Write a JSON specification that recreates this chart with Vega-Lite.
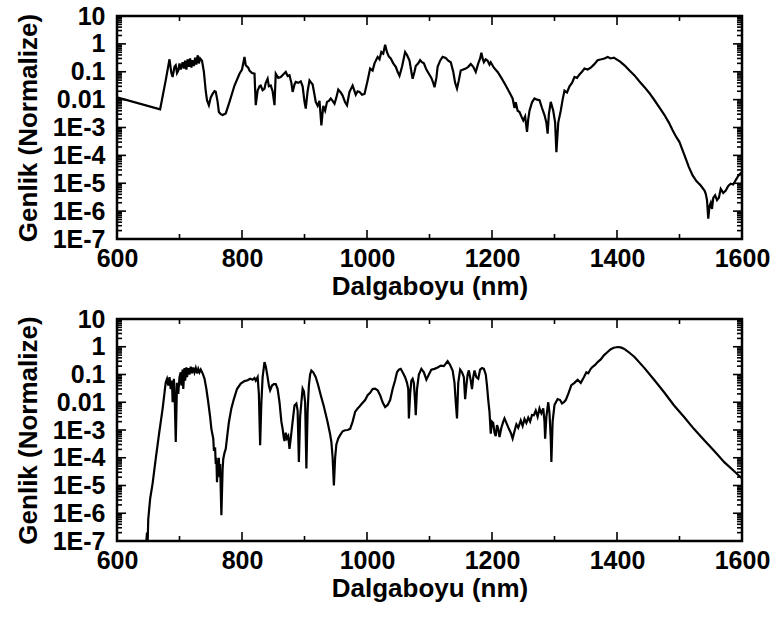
{
  "$schema": "https://vega.github.io/schema/vega-lite/v6.json",
  "padding": {"left": 13, "top": 2, "right": 2, "bottom": 2},
  "background": "white",
  "config": {
    "view": {"stroke": "black", "strokeWidth": 2.5},
    "axis": {
      "domain": false, "grid": false, "ticks": false,
      "labelFont": "Liberation Sans", "labelFontWeight": "bold", "labelFontSize": 25, "labelColor": "black",
      "titleFont": "Liberation Sans", "titleFontWeight": "bold", "titleFontSize": 26, "titleColor": "black",
      "labelOverlap": false, "labelFlush": false
    },
    "tick": {"color": "black", "opacity": 1, "thickness": 1.6}
  },
  "datasets": {
    "xmaj": [{"x":800},{"x":1000},{"x":1200},{"x":1400}],
    "xmin": [{"x":700},{"x":900},{"x":1100},{"x":1300},{"x":1500}],
    "ymaj": [{"y":1e-6},{"y":1e-5},{"y":1e-4},{"y":0.001},{"y":0.01},{"y":0.1},{"y":1}],
    "ymin": [{"y":2e-7},{"y":3e-7},{"y":4e-7},{"y":5e-7},{"y":6e-7},{"y":7e-7},{"y":8e-7},{"y":9e-7},{"y":2e-6},{"y":3e-6},{"y":4e-6},{"y":5e-6},{"y":6e-6},{"y":7e-6},{"y":8e-6},{"y":9e-6},{"y":2e-5},{"y":3e-5},{"y":4e-5},{"y":5e-5},{"y":6e-5},{"y":7e-5},{"y":8e-5},{"y":9e-5},{"y":2e-4},{"y":3e-4},{"y":4e-4},{"y":5e-4},{"y":6e-4},{"y":7e-4},{"y":8e-4},{"y":9e-4},{"y":0.002},{"y":0.003},{"y":0.004},{"y":0.005},{"y":0.006},{"y":0.007},{"y":0.008},{"y":0.009},{"y":0.02},{"y":0.03},{"y":0.04},{"y":0.05},{"y":0.06},{"y":0.07},{"y":0.08},{"y":0.09},{"y":0.2},{"y":0.3},{"y":0.4},{"y":0.5},{"y":0.6},{"y":0.7},{"y":0.8},{"y":0.9},{"y":2},{"y":3},{"y":4},{"y":5},{"y":6},{"y":7},{"y":8},{"y":9}],
    "a": [
      {"x":600,"y":0.012},{"x":669,"y":0.0045},{"x":678,"y":0.05},{"x":684,"y":0.28},{"x":687,"y":0.09},{"x":689,"y":0.065},{"x":692,"y":0.15},{"x":694,"y":0.17},{"x":696,"y":0.09},{"x":698,"y":0.11},{"x":700,"y":0.2},{"x":702,"y":0.12},{"x":705,"y":0.22},{"x":707,"y":0.13},{"x":709,"y":0.25},{"x":711,"y":0.12},{"x":713,"y":0.28},{"x":715,"y":0.15},{"x":717,"y":0.3},{"x":719,"y":0.14},{"x":721,"y":0.26},{"x":723,"y":0.16},{"x":725,"y":0.32},{"x":727,"y":0.18},{"x":729,"y":0.39},{"x":731,"y":0.2},{"x":733,"y":0.3},{"x":736,"y":0.25},{"x":739,"y":0.1},{"x":742,"y":0.02},{"x":744,"y":0.0095},{"x":747,"y":0.0063},{"x":750,"y":0.012},{"x":753,"y":0.016},{"x":756,"y":0.02},{"x":758,"y":0.019},{"x":761,"y":0.0083},{"x":763,"y":0.0036},{"x":766,"y":0.003},{"x":769,"y":0.0028},{"x":774,"y":0.0032},{"x":780,"y":0.0083},{"x":788,"y":0.032},{"x":796,"y":0.085},{"x":800,"y":0.12},{"x":804,"y":0.34},{"x":806,"y":0.17},{"x":810,"y":0.14},{"x":812,"y":0.11},{"x":816,"y":0.09},{"x":820,"y":0.085},{"x":822,"y":0.0063},{"x":825,"y":0.021},{"x":828,"y":0.03},{"x":830,"y":0.032},{"x":833,"y":0.022},{"x":836,"y":0.025},{"x":838,"y":0.04},{"x":841,"y":0.056},{"x":843,"y":0.03},{"x":846,"y":0.032},{"x":849,"y":0.02},{"x":852,"y":0.0063},{"x":854,"y":0.085},{"x":858,"y":0.06},{"x":862,"y":0.065},{"x":866,"y":0.08},{"x":870,"y":0.098},{"x":873,"y":0.07},{"x":876,"y":0.075},{"x":879,"y":0.04},{"x":881,"y":0.019},{"x":884,"y":0.035},{"x":886,"y":0.043},{"x":890,"y":0.04},{"x":894,"y":0.045},{"x":897,"y":0.03},{"x":900,"y":0.0083},{"x":902,"y":0.0048},{"x":905,"y":0.02},{"x":908,"y":0.049},{"x":911,"y":0.04},{"x":913,"y":0.035},{"x":916,"y":0.015},{"x":918,"y":0.0083},{"x":921,"y":0.006},{"x":924,"y":0.009},{"x":927,"y":0.0012},{"x":930,"y":0.006},{"x":933,"y":0.004},{"x":936,"y":0.0083},{"x":939,"y":0.009},{"x":942,"y":0.011},{"x":945,"y":0.009},{"x":948,"y":0.0071},{"x":951,"y":0.012},{"x":954,"y":0.023},{"x":958,"y":0.018},{"x":961,"y":0.014},{"x":965,"y":0.008},{"x":968,"y":0.0063},{"x":972,"y":0.019},{"x":977,"y":0.032},{"x":982,"y":0.015},{"x":985,"y":0.02},{"x":988,"y":0.019},{"x":992,"y":0.015},{"x":996,"y":0.016},{"x":1001,"y":0.049},{"x":1005,"y":0.13},{"x":1009,"y":0.11},{"x":1012,"y":0.2},{"x":1017,"y":0.34},{"x":1020,"y":0.28},{"x":1023,"y":0.51},{"x":1026,"y":0.45},{"x":1029,"y":0.93},{"x":1032,"y":0.5},{"x":1035,"y":0.35},{"x":1038,"y":0.3},{"x":1042,"y":0.2},{"x":1046,"y":0.15},{"x":1049,"y":0.1},{"x":1052,"y":0.071},{"x":1056,"y":0.15},{"x":1061,"y":0.51},{"x":1064,"y":0.4},{"x":1068,"y":0.25},{"x":1071,"y":0.1},{"x":1073,"y":0.056},{"x":1076,"y":0.1},{"x":1078,"y":0.16},{"x":1082,"y":0.2},{"x":1085,"y":0.26},{"x":1088,"y":0.22},{"x":1091,"y":0.2},{"x":1095,"y":0.12},{"x":1099,"y":0.085},{"x":1103,"y":0.06},{"x":1106,"y":0.04},{"x":1108,"y":0.028},{"x":1111,"y":0.06},{"x":1113,"y":0.15},{"x":1117,"y":0.25},{"x":1121,"y":0.34},{"x":1126,"y":0.31},{"x":1130,"y":0.25},{"x":1134,"y":0.22},{"x":1138,"y":0.1},{"x":1141,"y":0.04},{"x":1144,"y":0.025},{"x":1147,"y":0.05},{"x":1150,"y":0.11},{"x":1154,"y":0.12},{"x":1158,"y":0.13},{"x":1162,"y":0.15},{"x":1166,"y":0.19},{"x":1170,"y":0.15},{"x":1174,"y":0.098},{"x":1176,"y":0.14},{"x":1178,"y":0.2},{"x":1181,"y":0.3},{"x":1183,"y":0.48},{"x":1185,"y":0.3},{"x":1187,"y":0.22},{"x":1190,"y":0.28},{"x":1193,"y":0.25},{"x":1196,"y":0.18},{"x":1198,"y":0.22},{"x":1203,"y":0.14},{"x":1209,"y":0.098},{"x":1215,"y":0.06},{"x":1222,"y":0.032},{"x":1228,"y":0.018},{"x":1233,"y":0.011},{"x":1236,"y":0.005},{"x":1238,"y":0.008},{"x":1241,"y":0.004},{"x":1244,"y":0.0036},{"x":1247,"y":0.0025},{"x":1250,"y":0.0018},{"x":1253,"y":0.0025},{"x":1256,"y":0.00069},{"x":1258,"y":0.002},{"x":1260,"y":0.004},{"x":1264,"y":0.008},{"x":1268,"y":0.011},{"x":1272,"y":0.01},{"x":1276,"y":0.0095},{"x":1280,"y":0.005},{"x":1284,"y":0.0028},{"x":1287,"y":0.0015},{"x":1289,"y":0.0006},{"x":1291,"y":0.003},{"x":1294,"y":0.0083},{"x":1298,"y":0.004},{"x":1301,"y":0.0015},{"x":1303,"y":0.00013},{"x":1306,"y":0.0015},{"x":1310,"y":0.004},{"x":1313,"y":0.01},{"x":1316,"y":0.021},{"x":1320,"y":0.018},{"x":1324,"y":0.03},{"x":1328,"y":0.04},{"x":1332,"y":0.065},{"x":1336,"y":0.06},{"x":1340,"y":0.08},{"x":1344,"y":0.1},{"x":1348,"y":0.13},{"x":1353,"y":0.12},{"x":1358,"y":0.14},{"x":1363,"y":0.18},{"x":1369,"y":0.26},{"x":1375,"y":0.28},{"x":1380,"y":0.3},{"x":1385,"y":0.34},{"x":1390,"y":0.3},{"x":1395,"y":0.32},{"x":1398,"y":0.29},{"x":1405,"y":0.23},{"x":1412,"y":0.17},{"x":1420,"y":0.11},{"x":1428,"y":0.074},{"x":1436,"y":0.045},{"x":1444,"y":0.028},{"x":1452,"y":0.017},{"x":1460,"y":0.0095},{"x":1468,"y":0.0052},{"x":1476,"y":0.0028},{"x":1483,"y":0.0015},{"x":1489,"y":0.0008},{"x":1495,"y":0.00045},{"x":1500,"y":0.0003},{"x":1505,"y":0.00015},{"x":1510,"y":0.000076},{"x":1515,"y":0.000038},{"x":1521,"y":0.000019},{"x":1527,"y":0.000012},{"x":1534,"y":0.0000083},{"x":1540,"y":0.0000055},{"x":1542,"y":0.0000042},{"x":1544,"y":0.0000025},{"x":1546,"y":0.00000054},{"x":1548,"y":0.0000015},{"x":1550,"y":0.000002},{"x":1552,"y":0.0000012},{"x":1554,"y":0.000003},{"x":1557,"y":0.0000037},{"x":1560,"y":0.0000025},{"x":1563,"y":0.000003},{"x":1566,"y":0.0000063},{"x":1570,"y":0.0000045},{"x":1574,"y":0.0000055},{"x":1578,"y":0.000008},{"x":1582,"y":0.0000096},{"x":1586,"y":0.000009},{"x":1590,"y":0.000013},{"x":1595,"y":0.00002},{"x":1600,"y":0.000025}
    ],
    "b": [
      {"x":645,"y":0.00000001},{"x":646,"y":0.00000005},{"x":648,"y":0.0000002},{"x":649,"y":0.00000008},{"x":650,"y":0.0000006},{"x":653,"y":0.0000033},{"x":657,"y":0.000012},{"x":662,"y":0.000093},{"x":667,"y":0.00065},{"x":673,"y":0.0059},{"x":678,"y":0.053},{"x":680,"y":0.07},{"x":682,"y":0.04},{"x":684,"y":0.08},{"x":686,"y":0.03},{"x":688,"y":0.06},{"x":689,"y":0.01},{"x":691,"y":0.07},{"x":692,"y":0.03},{"x":694,"y":0.00037},{"x":696,"y":0.05},{"x":698,"y":0.02},{"x":700,"y":0.08},{"x":702,"y":0.12},{"x":703,"y":0.04},{"x":705,"y":0.15},{"x":706,"y":0.03},{"x":708,"y":0.17},{"x":709,"y":0.06},{"x":711,"y":0.18},{"x":712,"y":0.08},{"x":714,"y":0.17},{"x":716,"y":0.1},{"x":718,"y":0.19},{"x":720,"y":0.11},{"x":722,"y":0.18},{"x":724,"y":0.12},{"x":726,"y":0.17},{"x":728,"y":0.11},{"x":730,"y":0.16},{"x":732,"y":0.12},{"x":734,"y":0.15},{"x":737,"y":0.11},{"x":740,"y":0.071},{"x":743,"y":0.03},{"x":746,"y":0.01},{"x":749,"y":0.003},{"x":751,"y":0.0011},{"x":754,"y":0.00049},{"x":755,"y":0.0002},{"x":757,"y":0.00021},{"x":758,"y":0.00006},{"x":759,"y":0.0001},{"x":760,"y":0.000013},{"x":761,"y":0.00008},{"x":762,"y":0.00003},{"x":763,"y":0.0001},{"x":764,"y":0.00002},{"x":765,"y":0.00006},{"x":767,"y":0.00000085},{"x":769,"y":0.00004},{"x":770,"y":0.00009},{"x":772,"y":0.00015},{"x":774,"y":0.00021},{"x":777,"y":0.0008},{"x":779,"y":0.0019},{"x":783,"y":0.006},{"x":787,"y":0.013},{"x":792,"y":0.03},{"x":798,"y":0.047},{"x":804,"y":0.058},{"x":809,"y":0.062},{"x":813,"y":0.07},{"x":817,"y":0.065},{"x":820,"y":0.075},{"x":822,"y":0.06},{"x":825,"y":0.08},{"x":827,"y":0.02},{"x":829,"y":0.00028},{"x":831,"y":0.01},{"x":833,"y":0.08},{"x":836,"y":0.28},{"x":838,"y":0.2},{"x":841,"y":0.08},{"x":843,"y":0.04},{"x":845,"y":0.027},{"x":848,"y":0.04},{"x":851,"y":0.045},{"x":854,"y":0.045},{"x":857,"y":0.03},{"x":860,"y":0.01},{"x":863,"y":0.002},{"x":865,"y":0.0011},{"x":867,"y":0.0005},{"x":868,"y":0.0004},{"x":870,"y":0.0008},{"x":872,"y":0.0005},{"x":874,"y":0.0006},{"x":876,"y":0.00021},{"x":878,"y":0.0005},{"x":881,"y":0.002},{"x":884,"y":0.0077},{"x":887,"y":0.009},{"x":889,"y":0.005},{"x":891,"y":0.00007},{"x":893,"y":0.003},{"x":895,"y":0.01},{"x":897,"y":0.031},{"x":899,"y":0.025},{"x":901,"y":0.01},{"x":903,"y":0.000041},{"x":905,"y":0.005},{"x":907,"y":0.04},{"x":909,"y":0.1},{"x":911,"y":0.14},{"x":914,"y":0.12},{"x":918,"y":0.08},{"x":922,"y":0.04},{"x":926,"y":0.018},{"x":931,"y":0.007},{"x":937,"y":0.0019},{"x":941,"y":0.0007},{"x":943,"y":0.00037},{"x":945,"y":0.0001},{"x":947,"y":0.00001},{"x":949,"y":0.0001},{"x":951,"y":0.0003},{"x":954,"y":0.0005},{"x":957,"y":0.00065},{"x":961,"y":0.0009},{"x":965,"y":0.00098},{"x":969,"y":0.001},{"x":973,"y":0.0011},{"x":977,"y":0.002},{"x":981,"y":0.0045},{"x":985,"y":0.006},{"x":988,"y":0.007},{"x":992,"y":0.009},{"x":997,"y":0.012},{"x":1001,"y":0.018},{"x":1005,"y":0.022},{"x":1009,"y":0.03},{"x":1013,"y":0.031},{"x":1017,"y":0.027},{"x":1021,"y":0.018},{"x":1025,"y":0.01},{"x":1029,"y":0.0067},{"x":1033,"y":0.008},{"x":1037,"y":0.012},{"x":1041,"y":0.03},{"x":1045,"y":0.062},{"x":1048,"y":0.12},{"x":1051,"y":0.15},{"x":1054,"y":0.16},{"x":1057,"y":0.12},{"x":1061,"y":0.08},{"x":1064,"y":0.05},{"x":1066,"y":0.03},{"x":1067,"y":0.0026},{"x":1069,"y":0.02},{"x":1071,"y":0.06},{"x":1073,"y":0.07},{"x":1075,"y":0.05},{"x":1077,"y":0.01},{"x":1078,"y":0.0034},{"x":1080,"y":0.03},{"x":1083,"y":0.1},{"x":1087,"y":0.16},{"x":1091,"y":0.12},{"x":1095,"y":0.065},{"x":1099,"y":0.1},{"x":1103,"y":0.15},{"x":1108,"y":0.16},{"x":1113,"y":0.18},{"x":1118,"y":0.21},{"x":1123,"y":0.2},{"x":1129,"y":0.3},{"x":1133,"y":0.22},{"x":1137,"y":0.14},{"x":1140,"y":0.05},{"x":1142,"y":0.01},{"x":1144,"y":0.0026},{"x":1146,"y":0.05},{"x":1149,"y":0.15},{"x":1152,"y":0.12},{"x":1155,"y":0.08},{"x":1157,"y":0.013},{"x":1159,"y":0.04},{"x":1161,"y":0.1},{"x":1163,"y":0.14},{"x":1166,"y":0.06},{"x":1168,"y":0.03},{"x":1170,"y":0.08},{"x":1172,"y":0.14},{"x":1175,"y":0.08},{"x":1178,"y":0.07},{"x":1181,"y":0.15},{"x":1184,"y":0.17},{"x":1187,"y":0.16},{"x":1190,"y":0.1},{"x":1192,"y":0.04},{"x":1194,"y":0.012},{"x":1196,"y":0.0045},{"x":1198,"y":0.00074},{"x":1200,"y":0.002},{"x":1202,"y":0.0018},{"x":1204,"y":0.0008},{"x":1206,"y":0.0006},{"x":1208,"y":0.0015},{"x":1210,"y":0.0011},{"x":1212,"y":0.00056},{"x":1215,"y":0.0012},{"x":1218,"y":0.002},{"x":1220,"y":0.0026},{"x":1223,"y":0.0018},{"x":1227,"y":0.0011},{"x":1230,"y":0.0008},{"x":1233,"y":0.00049},{"x":1236,"y":0.0009},{"x":1239,"y":0.0016},{"x":1242,"y":0.0012},{"x":1246,"y":0.0022},{"x":1249,"y":0.0014},{"x":1252,"y":0.0025},{"x":1255,"y":0.0018},{"x":1258,"y":0.0028},{"x":1261,"y":0.002},{"x":1264,"y":0.0035},{"x":1267,"y":0.0034},{"x":1270,"y":0.005},{"x":1273,"y":0.003},{"x":1276,"y":0.006},{"x":1279,"y":0.004},{"x":1282,"y":0.006},{"x":1284,"y":0.002},{"x":1285,"y":0.00049},{"x":1287,"y":0.003},{"x":1290,"y":0.01},{"x":1292,"y":0.004},{"x":1294,"y":0.0005},{"x":1295,"y":0.00007},{"x":1297,"y":0.002},{"x":1300,"y":0.008},{"x":1305,"y":0.013},{"x":1309,"y":0.012},{"x":1312,"y":0.009},{"x":1315,"y":0.01},{"x":1318,"y":0.012},{"x":1322,"y":0.02},{"x":1327,"y":0.041},{"x":1332,"y":0.05},{"x":1337,"y":0.065},{"x":1342,"y":0.05},{"x":1347,"y":0.08},{"x":1351,"y":0.12},{"x":1354,"y":0.11},{"x":1358,"y":0.16},{"x":1361,"y":0.19},{"x":1365,"y":0.22},{"x":1369,"y":0.28},{"x":1374,"y":0.35},{"x":1379,"y":0.49},{"x":1384,"y":0.62},{"x":1390,"y":0.81},{"x":1395,"y":0.92},{"x":1401,"y":0.98},{"x":1406,"y":0.95},{"x":1411,"y":0.85},{"x":1418,"y":0.66},{"x":1428,"y":0.43},{"x":1444,"y":0.17},{"x":1460,"y":0.062},{"x":1476,"y":0.022},{"x":1491,"y":0.0078},{"x":1507,"y":0.003},{"x":1523,"y":0.0011},{"x":1540,"y":0.00042},{"x":1556,"y":0.00017},{"x":1572,"y":0.000068},{"x":1588,"y":0.000032},{"x":1600,"y":0.000018}
    ]
  },
  "vconcat": [
    {
      "width": 625, "height": 223,
      "encoding": {
        "x": {"type": "quantitative", "scale": {"domain": [600, 1600], "nice": false, "zero": false},
          "axis": {"orient": "bottom", "values": [600,800,1000,1200,1400,1600], "format": "d", "labelPadding": 7, "title": "Dalgaboyu (nm)", "titlePadding": 2}},
        "y": {"type": "quantitative", "scale": {"type": "log", "domain": [1e-7, 10], "nice": false},
          "axis": {"orient": "left", "values": [1e-7,1e-6,1e-5,1e-4,0.001,0.01,0.1,1,10],
            "labelExpr": "datum.value >= 0.01 ? toString(datum.value) : '1E' + round(log(datum.value)/LN10)",
            "labelPadding": 12, "title": "Genlik (Normalize)", "titlePadding": 11}}
      },
      "layer": [
        {"data": {"name": "a"}, "mark": {"type": "line", "color": "black", "strokeWidth": 2.2, "clip": true},
         "encoding": {"x": {"field": "x"}, "y": {"field": "y"}}},
        {"data": {"name": "xmaj"}, "mark": {"type": "tick", "orient": "vertical", "size": 18, "clip": true},
         "encoding": {"x": {"field": "x"}, "y": {"datum": 1e-7}}},
        {"data": {"name": "xmaj"}, "mark": {"type": "tick", "orient": "vertical", "size": 18, "clip": true},
         "encoding": {"x": {"field": "x"}, "y": {"datum": 10}}},
        {"data": {"name": "xmin"}, "mark": {"type": "tick", "orient": "vertical", "size": 10, "clip": true},
         "encoding": {"x": {"field": "x"}, "y": {"datum": 1e-7}}},
        {"data": {"name": "xmin"}, "mark": {"type": "tick", "orient": "vertical", "size": 10, "clip": true},
         "encoding": {"x": {"field": "x"}, "y": {"datum": 10}}},
        {"data": {"name": "ymaj"}, "mark": {"type": "tick", "orient": "horizontal", "size": 18, "clip": true},
         "encoding": {"y": {"field": "y"}, "x": {"datum": 600}}},
        {"data": {"name": "ymaj"}, "mark": {"type": "tick", "orient": "horizontal", "size": 18, "clip": true},
         "encoding": {"y": {"field": "y"}, "x": {"datum": 1600}}},
        {"data": {"name": "ymin"}, "mark": {"type": "tick", "orient": "horizontal", "size": 10, "clip": true},
         "encoding": {"y": {"field": "y"}, "x": {"datum": 600}}},
        {"data": {"name": "ymin"}, "mark": {"type": "tick", "orient": "horizontal", "size": 10, "clip": true},
         "encoding": {"y": {"field": "y"}, "x": {"datum": 1600}}}
      ]
    },
    {
      "width": 625, "height": 222,
      "encoding": {
        "x": {"type": "quantitative", "scale": {"domain": [600, 1600], "nice": false, "zero": false},
          "axis": {"orient": "bottom", "values": [600,800,1000,1200,1400,1600], "format": "d", "labelPadding": 7, "title": "Dalgaboyu (nm)", "titlePadding": 2}},
        "y": {"type": "quantitative", "scale": {"type": "log", "domain": [1e-7, 10], "nice": false},
          "axis": {"orient": "left", "values": [1e-7,1e-6,1e-5,1e-4,0.001,0.01,0.1,1,10],
            "labelExpr": "datum.value >= 0.01 ? toString(datum.value) : '1E' + round(log(datum.value)/LN10)",
            "labelPadding": 12, "title": "Genlik (Normalize)", "titlePadding": 11}}
      },
      "layer": [
        {"data": {"name": "b"}, "mark": {"type": "line", "color": "black", "strokeWidth": 2.2, "clip": true},
         "encoding": {"x": {"field": "x"}, "y": {"field": "y"}}},
        {"data": {"name": "xmaj"}, "mark": {"type": "tick", "orient": "vertical", "size": 18, "clip": true},
         "encoding": {"x": {"field": "x"}, "y": {"datum": 1e-7}}},
        {"data": {"name": "xmaj"}, "mark": {"type": "tick", "orient": "vertical", "size": 18, "clip": true},
         "encoding": {"x": {"field": "x"}, "y": {"datum": 10}}},
        {"data": {"name": "xmin"}, "mark": {"type": "tick", "orient": "vertical", "size": 10, "clip": true},
         "encoding": {"x": {"field": "x"}, "y": {"datum": 1e-7}}},
        {"data": {"name": "xmin"}, "mark": {"type": "tick", "orient": "vertical", "size": 10, "clip": true},
         "encoding": {"x": {"field": "x"}, "y": {"datum": 10}}},
        {"data": {"name": "ymaj"}, "mark": {"type": "tick", "orient": "horizontal", "size": 18, "clip": true},
         "encoding": {"y": {"field": "y"}, "x": {"datum": 600}}},
        {"data": {"name": "ymaj"}, "mark": {"type": "tick", "orient": "horizontal", "size": 18, "clip": true},
         "encoding": {"y": {"field": "y"}, "x": {"datum": 1600}}},
        {"data": {"name": "ymin"}, "mark": {"type": "tick", "orient": "horizontal", "size": 10, "clip": true},
         "encoding": {"y": {"field": "y"}, "x": {"datum": 600}}},
        {"data": {"name": "ymin"}, "mark": {"type": "tick", "orient": "horizontal", "size": 10, "clip": true},
         "encoding": {"y": {"field": "y"}, "x": {"datum": 1600}}}
      ]
    }
  ],
  "bounds": "flush",
  "spacing": 80
}
